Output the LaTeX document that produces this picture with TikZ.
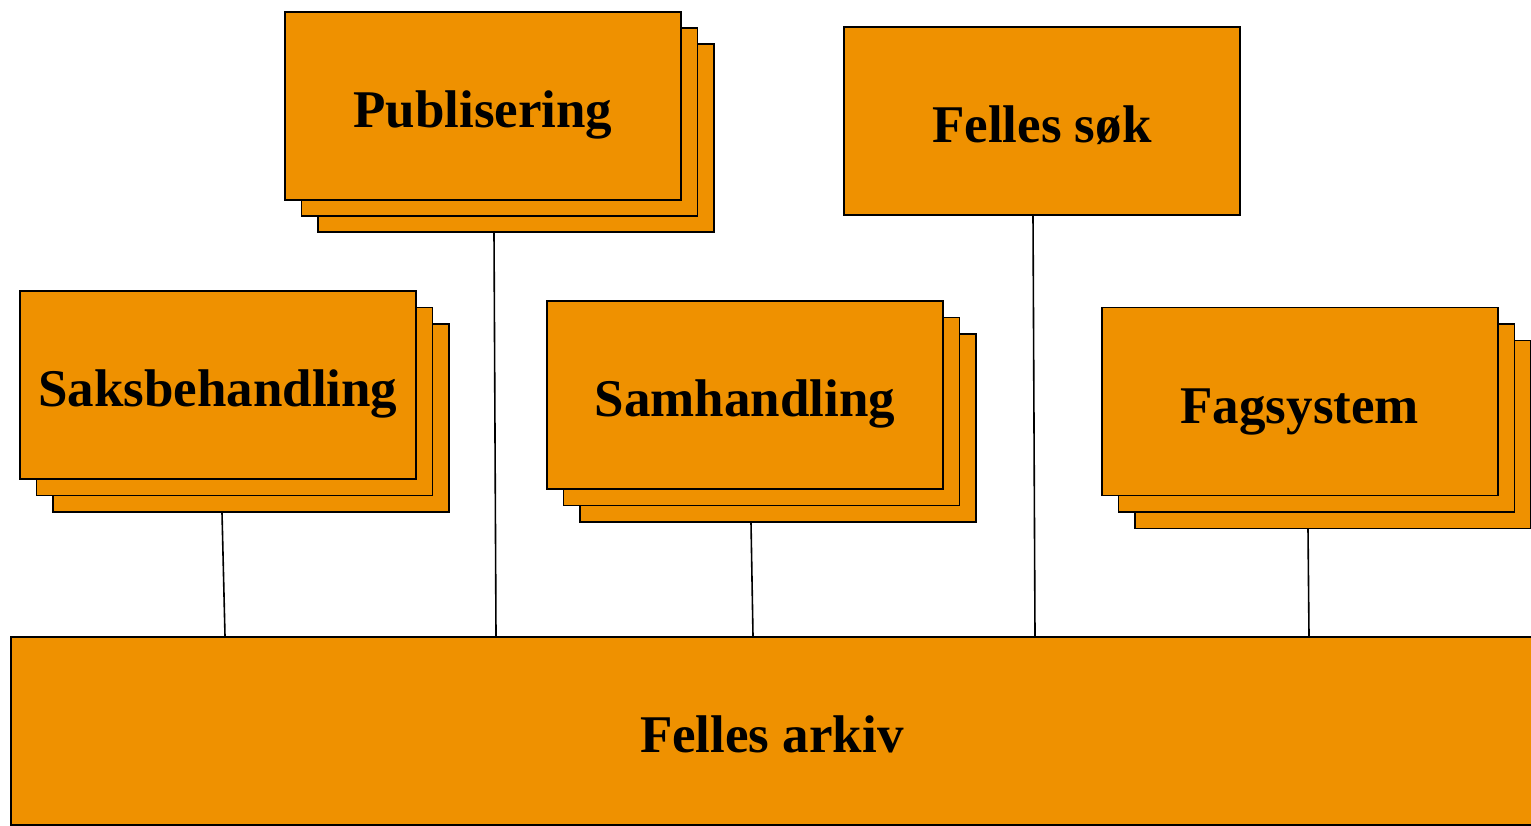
\documentclass[tikz,border=0pt]{standalone}
\usepackage{fontspec}
\setmainfont{Liberation Serif}
\usetikzlibrary{calc}
\definecolor{boxorange}{RGB}{239,145,0}
\begin{document}
\begin{tikzpicture}[x=1pt,y=-1pt,
  card/.style={draw=black, line width=1.6pt, fill=boxorange, minimum width=396pt, minimum height=188pt, anchor=north west, inner sep=0pt, text height=44pt, text depth=0pt, font=\fontsize{53}{60}\selectfont\bfseries},
  link/.style={draw=black, line width=1.6pt}]
\useasboundingbox (0,0) rectangle (1531,825);
\clip (0,0) rectangle (1531,825);
% Publisering stack
\node[card] (pub3) at (317,43) {};
\node[card] (pub2) at (300.5,27) {};
\node[card] (pub) at (284,11) {Publisering};
% Felles søk
\node[card] (sok) at (843,26) {Felles søk};
% Saksbehandling stack
\node[card] (sak3) at (52,323) {};
\node[card] (sak2) at (35.5,306.5) {};
\node[card] (sak) at (19,290) {Saksbehandling};
% Samhandling stack
\node[card] (sam3) at (579,333) {};
\node[card] (sam2) at (562.5,316.5) {};
\node[card] (sam) at (546,300) {Samhandling};
% Fagsystem stack
\node[card] (fag3) at (1134,339.5) {};
\node[card] (fag2) at (1117.5,323) {};
\node[card] (fag) at (1101,306.5) {Fagsystem};
% Felles arkiv
\node[card, minimum width=1522pt] (arkiv) at (10,636) {Felles arkiv};
% connectors
\draw[link] ($(sak3.south west)+(170,0)$) -- ($(arkiv.north west)+(215,0)$);
\draw[link] ($(pub3.south west)+(177,0)$) -- ($(arkiv.north west)+(486,0)$);
\draw[link] ($(sam3.south west)+(172,0)$) -- ($(arkiv.north west)+(743,0)$);
\draw[link] ($(sok.south west)+(190,0)$) -- ($(arkiv.north west)+(1025,0)$);
\draw[link] ($(fag3.south west)+(174,0)$) -- ($(arkiv.north west)+(1299,0)$);
\end{tikzpicture}
\end{document}
